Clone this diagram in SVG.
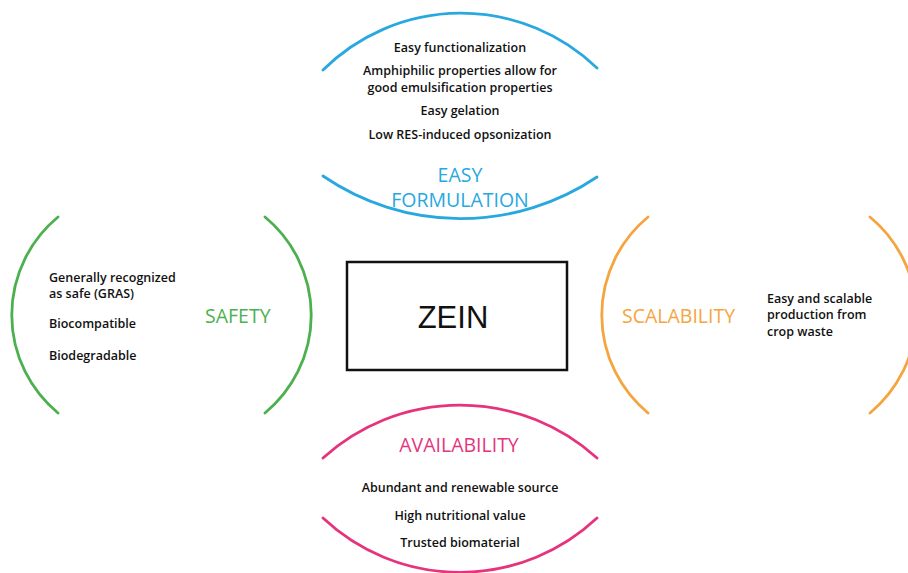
<svg xmlns="http://www.w3.org/2000/svg" width="908" height="573" viewBox="0 0 908 573">
<style>
.arc{fill:none;stroke-width:2.8;stroke-linecap:round}
.blue{stroke:#29a8e0}.green{stroke:#4db04f}.orange{stroke:#f5a540}.pink{stroke:#e5347c}
.t{font-family:"Open Sans","Noto Sans",sans-serif;font-size:12.5px;font-weight:600;fill:#111}
.c{text-anchor:middle}
.h{font-family:"Open Sans","Noto Sans",sans-serif;font-size:19.5px}
</style>
<rect width="908" height="573" fill="#fff"/>
<g id="easy-formulation">
<path class="arc blue" d="M323,70 A196,196 0 0 1 597,68"/>
<path class="arc blue" d="M323,176 A244,244 0 0 0 597,177"/>
<text class="t c" x="460" y="52">Easy functionalization</text>
<text class="t c" x="460" y="75">Amphiphilic properties allow for</text>
<text class="t c" x="460" y="92">good emulsification properties</text>
<text class="t c" x="460" y="115">Easy gelation</text>
<text class="t c" x="460" y="139">Low RES-induced opsonization</text>
<text class="h c" x="460" y="182" fill="#29a8e0">EASY</text>
<text class="h c" x="460" y="207" fill="#29a8e0">FORMULATION</text>
</g>
<g id="safety">
<path class="arc green" d="M58,217 A127,127 0 0 0 58,413"/>
<path class="arc green" d="M265,217 A127,127 0 0 1 265,413"/>
<text class="t" x="49" y="282">Generally recognized</text>
<text class="t" x="49" y="298">as safe (GRAS)</text>
<text class="t" x="49" y="328">Biocompatible</text>
<text class="t" x="49" y="360">Biodegradable</text>
<text class="h" x="205" y="323" fill="#4db04f">SAFETY</text>
</g>
<g id="zein">
<rect x="347" y="262" width="220" height="108" fill="none" stroke="#111" stroke-width="2.5"/>
<text x="453" y="328" text-anchor="middle" font-family="Liberation Sans,Arial,sans-serif" font-size="31" fill="#111">ZEIN</text>
</g>
<g id="scalability">
<path class="arc orange" d="M648,217 A127,127 0 0 0 648,413"/>
<path class="arc orange" d="M870,217 A127,127 0 0 1 870,413"/>
<text class="h" x="622" y="323" fill="#f5a540">SCALABILITY</text>
<text class="t" x="767" y="303">Easy and scalable</text>
<text class="t" x="767" y="319">production from</text>
<text class="t" x="767" y="336">crop waste</text>
</g>
<g id="availability">
<path class="arc pink" d="M323,458 A204,204 0 0 1 597,458"/>
<path class="arc pink" d="M323,518 A200,200 0 0 0 597,518"/>
<text class="h c" x="459" y="452" fill="#e5347c">AVAILABILITY</text>
<text class="t c" x="460" y="492">Abundant and renewable source</text>
<text class="t c" x="460" y="520">High nutritional value</text>
<text class="t c" x="460" y="547">Trusted biomaterial</text>
</g>
<g id="connectors"></g>
</svg>
